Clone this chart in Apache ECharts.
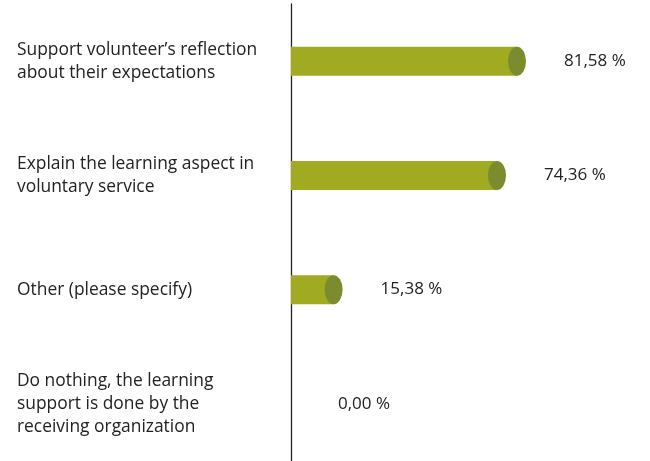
<!DOCTYPE html>
<html>
<head>
<meta charset="utf-8">
<script src="https://cdn.jsdelivr.net/npm/echarts@6/dist/echarts.min.js"></script>
<style>
  html, body { margin: 0; padding: 0; background: #fff; }
  #chart { width: 650px; height: 461px; }
</style>
</head>
<body>
<div id="chart"></div>
<script>
var categories = [
  'Support volunteer\u2019s reflection\nabout their expectations',
  'Explain the learning aspect in\nvoluntary service',
  'Other (please specify)',
  'Do nothing, the learning\nsupport is done by the\nreceiving organization'
]
var values = [81.58, 74.36, 15.38, 0]

var fontFamily = 'Open Sans, sans-serif'
var chart = echarts.init(document.getElementById('chart'))

function fmt (v) {
  return v.toFixed(2).replace('.', ',') + ' %'
}

chart.setOption({
  animation: false,
  grid: { left: 291, right: 82, top: 4, height: 458, containLabel: false },
  xAxis: {
    type: 'value',
    min: 0,
    max: 100,
    show: false
  },
  yAxis: {
    type: 'category',
    data: categories,
    inverse: true,
    axisLine: { show: true, lineStyle: { color: '#222', width: 1.3 } },
    axisTick: { show: false },
    axisLabel: {
      align: 'left',
      margin: 274,
      color: '#222',
      fontFamily: fontFamily,
      fontSize: 17.4,
      lineHeight: 23
    }
  },
  series: [
    {
      type: 'bar',
      data: values,
      barWidth: 29,
      itemStyle: { color: '#a0ab22' },
      label: {
        show: true,
        position: 'right',
        distance: 47,
        color: '#222',
        fontFamily: fontFamily,
        fontSize: 17,
        formatter: function (p) { return fmt(p.value) }
      },
      z: 2
    },
    {
      // darker ellipse cap centred on the bar end
      type: 'pictorialBar',
      data: values.map(function (v) { return v > 0 ? v : '-' }),
      symbol: 'circle',
      symbolSize: [18, 29],
      symbolPosition: 'end',
      symbolOffset: ['50%', 0],
      itemStyle: { color: '#7a8c2d' },
      z: 3
    }
  ]
})
</script>
</body>
</html>
